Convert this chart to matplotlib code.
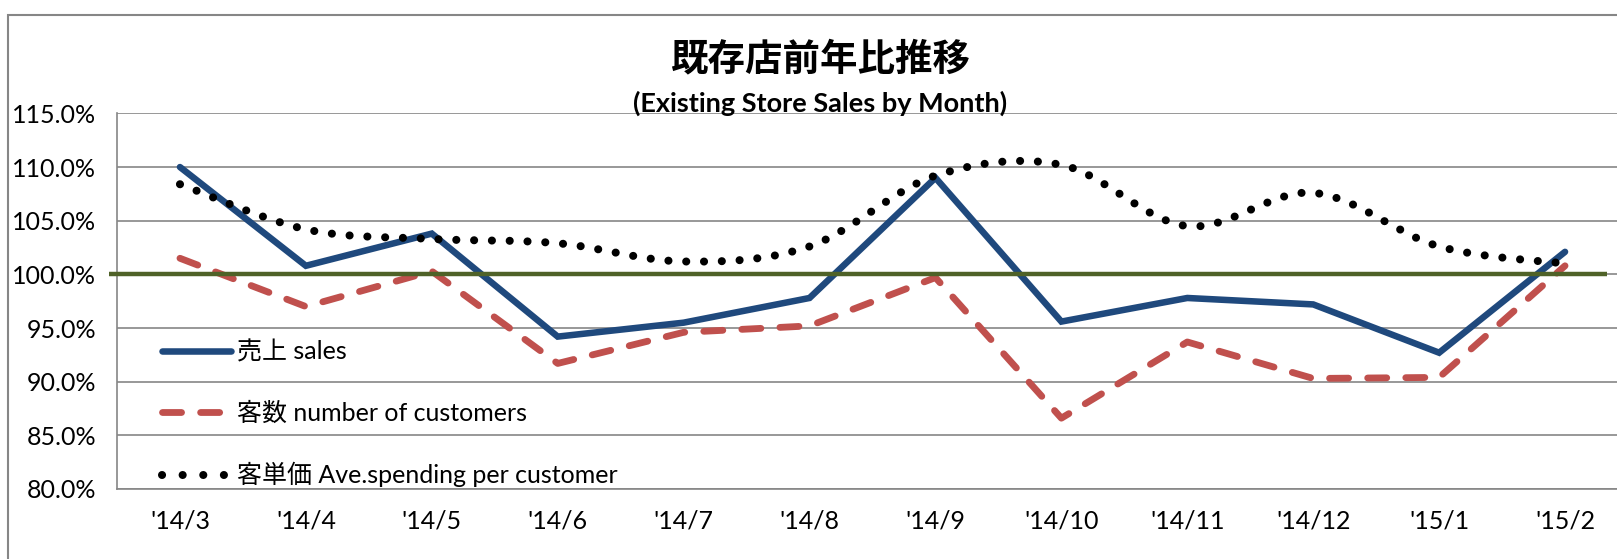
import matplotlib
matplotlib.use('Agg')
import matplotlib.pyplot as plt
from matplotlib.path import Path
from matplotlib.patches import PathPatch, Rectangle
from matplotlib.lines import Line2D

plt.rcParams['font.family'] = ['Lato', 'Noto Sans CJK JP', 'DejaVu Sans']

months = ["'14/3", "'14/4", "'14/5", "'14/6", "'14/7", "'14/8",
          "'14/9", "'14/10", "'14/11", "'14/12", "'15/1", "'15/2"]
sales = [110.0, 100.8, 103.8, 94.2, 95.5, 97.8, 109.0, 95.6, 97.8, 97.2, 92.7, 102.1]
customers = [101.5, 97.0, 100.3, 91.7, 94.6, 95.2, 99.7, 86.6, 93.7, 90.3, 90.4, 100.8]
spending = [108.4, 104.2, 103.3, 102.9, 101.2, 102.6, 109.2, 110.2, 104.5, 107.6, 102.6, 101.0]
yticks = [80, 85, 90, 95, 100, 105, 110, 115]
baseline = 100

label_sales = '売上 sales'
label_cust = '客数 number of customers'
label_spend = '客単価 Ave.spending per customer'

blue = '#1F497D'
red = '#C0504D'
green = '#4F6228'
grid = '#868686'

W, H = 1617, 559
fig = plt.figure(figsize=(W / 100, H / 100), dpi=100)
ax = fig.add_axes([117 / W, 70 / H, 1511 / W, 375.6 / H])

x = list(range(len(months)))

ax.set_xlim(-0.5, len(months) - 0.5)
ax.set_ylim(80, 115)
ax.set_yticks(yticks)
ax.set_yticklabels([f'{v:.1f}%' for v in yticks])
ax.set_xticks(x)
ax.set_xticklabels(months)
ax.tick_params(axis='both', length=0, labelsize=18, colors='black')
ax.tick_params(axis='y', pad=15)
ax.tick_params(axis='x', pad=15)
ax.yaxis.grid(True, color=grid, linewidth=1.2, zorder=0)
ax.set_axisbelow(True)
for s in ['top', 'right']:
    ax.spines[s].set_visible(False)
for s in ['left', 'bottom']:
    ax.spines[s].set_color(grid)
    ax.spines[s].set_linewidth(1.2)

l1, = ax.plot(x, sales, color=blue, linewidth=4.7, solid_capstyle='round',
              solid_joinstyle='miter', zorder=3, label=label_sales)
l2, = ax.plot(x, customers, color=red, linewidth=4.9, linestyle=(0, (2.8, 2.8)),
              dash_capstyle='round', zorder=4, label=label_cust)

# smoothed line (Excel style) as a bezier path through the points
n = len(spending)
pts = list(zip(x, spending))
verts = [pts[0]]
codes = [Path.MOVETO]
for i in range(n - 1):
    p0 = pts[max(i - 1, 0)]
    p1 = pts[i]
    p2 = pts[i + 1]
    p3 = pts[min(i + 2, n - 1)]
    c1 = (p1[0] + (p2[0] - p0[0]) / 6, p1[1] + (p2[1] - p0[1]) / 6)
    c2 = (p2[0] - (p3[0] - p1[0]) / 6, p2[1] - (p3[1] - p1[1]) / 6)
    verts += [c1, c2, p2]
    codes += [Path.CURVE4] * 3
ax.add_patch(PathPatch(Path(verts, codes), fill=False, edgecolor='black',
                       capstyle='round', zorder=5, linewidth=5.8,
                       linestyle=(0, (0.01, 2.2))))
l3 = Line2D([], [], color='black', dash_capstyle='round', linewidth=5.8,
            linestyle=(0, (0.01, 2.55)))

ax.hlines(baseline, -0.565, 11.33, color=green, linewidth=3.2, zorder=6, clip_on=False)

leg = ax.legend([l1, l2, l3], [label_sales, label_cust, label_spend],
                loc='center left', bbox_to_anchor=(162 / W, 1 - 414 / H),
                bbox_transform=fig.transFigure, frameon=False, fontsize=18,
                handlelength=2.75, handletextpad=0.25, labelspacing=1.5,
                borderpad=0, borderaxespad=0)
leg.set_zorder(7)

fig.text(820 / W, 1 - 59 / H, '既存店前年比推移', ha='center', va='center',
         fontsize=27, fontweight='bold', family=['Noto Sans CJK JP'])
fig.text(820 / W, 1 - 103 / H, '(Existing Store Sales by Month)', ha='center',
         va='center', fontsize=19.5, fontweight='bold')

fig.add_artist(Rectangle((8 / W, -0.5), 1.5, 1 - 15 / H + 0.5, transform=fig.transFigure,
                         fill=False, edgecolor=grid, linewidth=1.5))

fig.savefig('out.png', dpi=100)
